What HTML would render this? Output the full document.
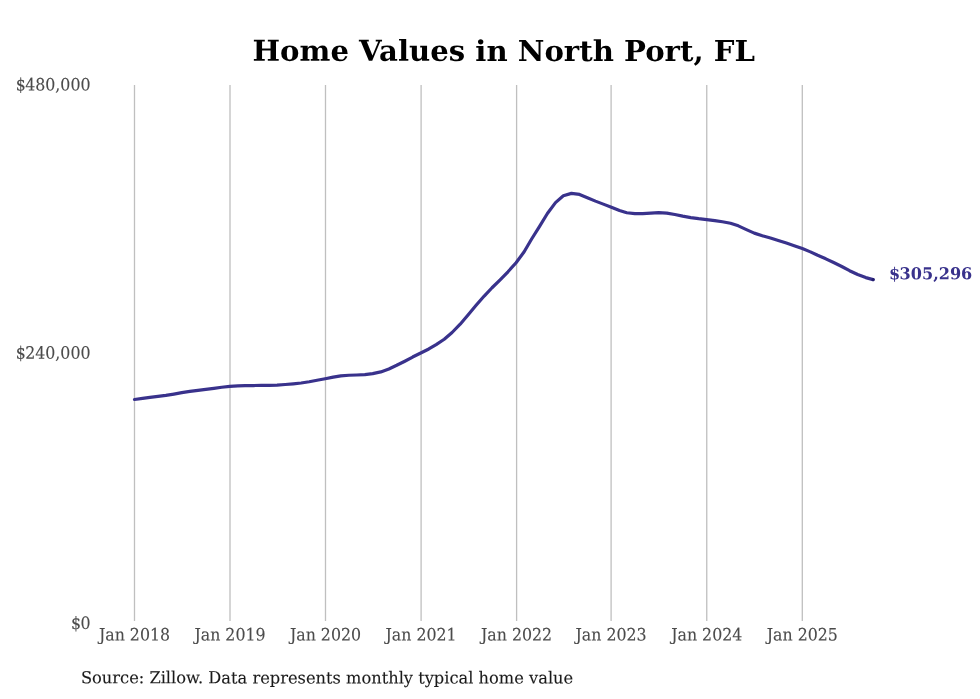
<!DOCTYPE html>
<html lang="en"><head><meta charset="utf-8"><title>Home Values in North Port, FL</title>
<style>
html,body{margin:0;padding:0;background:#fff;}
body{width:980px;height:699px;overflow:hidden;}
svg{display:block;}
text{font-family:"DejaVu Serif","Liberation Serif",serif;}
</style></head><body>
<svg width="980" height="699" viewBox="0 0 980 699">
<rect width="980" height="699" fill="#ffffff"/>
<g stroke="#bfbfbf" stroke-width="1.3" fill="none">
<line x1="134.5" y1="84.9" x2="134.5" y2="621.0"/>
<line x1="230.0" y1="84.9" x2="230.0" y2="621.0"/>
<line x1="325.5" y1="84.9" x2="325.5" y2="621.0"/>
<line x1="421.1" y1="84.9" x2="421.1" y2="621.0"/>
<line x1="516.6" y1="84.9" x2="516.6" y2="621.0"/>
<line x1="611.1" y1="84.9" x2="611.1" y2="621.0"/>
<line x1="706.75" y1="84.9" x2="706.75" y2="621.0"/>
<line x1="802.3" y1="84.9" x2="802.3" y2="621.0"/>
</g>
<path d="M134.50,399.50 L142.60,398.40 L149.91,397.31 L158.00,396.34 L165.84,395.32 L173.94,394.05 L181.77,392.67 L189.87,391.44 L197.96,390.38 L205.80,389.41 L213.89,388.39 L221.73,387.25 L229.83,386.32 L237.92,385.92 L245.23,385.71 L253.33,385.53 L261.17,385.46 L269.26,385.34 L277.10,385.06 L285.19,384.52 L293.29,383.82 L301.12,382.98 L309.22,381.76 L317.05,380.30 L325.15,378.76 L333.25,377.09 L340.82,375.81 L348.92,375.23 L356.75,374.99 L364.85,374.57 L372.68,373.65 L380.78,371.90 L388.88,369.03 L396.71,365.30 L404.81,361.20 L412.64,357.04 L420.74,352.98 L428.83,348.98 L436.15,344.58 L444.24,339.23 L452.08,332.50 L460.17,324.22 L468.01,314.94 L476.10,305.29 L484.20,296.04 L492.04,287.74 L500.13,279.82 L507.97,271.80 L516.06,262.78 L524.16,251.76 L531.47,239.27 L539.57,226.31 L547.40,213.51 L555.50,202.62 L563.33,195.83 L571.43,193.38 L579.53,194.46 L587.36,197.68 L595.46,201.12 L603.29,204.13 L611.39,207.34 L619.48,210.55 L626.80,212.73 L634.89,213.67 L642.73,213.67 L650.82,213.12 L658.66,212.69 L666.76,213.12 L674.85,214.53 L682.69,216.19 L690.78,217.59 L698.62,218.69 L706.71,219.61 L714.81,220.60 L722.38,221.77 L730.48,223.26 L738.31,225.85 L746.41,229.60 L754.25,233.11 L762.34,235.76 L770.44,238.06 L778.27,240.49 L786.37,243.08 L794.20,245.68 L802.30,248.60 L810.40,251.88 L817.71,255.29 L825.80,258.83 L833.64,262.55 L841.74,266.53 L849.57,270.68 L857.67,274.51 L865.76,277.60 L873.10,279.60" fill="none" stroke="#39328c" stroke-width="3.2" stroke-linejoin="round" stroke-linecap="round"/>
<circle cx="873.10" cy="279.60" r="1.6" fill="#241e6e"/>
<text transform="translate(503.75 60.90) scale(0.999 0.985) rotate(0.03)" text-anchor="middle" font-size="29.2" font-weight="bold" fill="#000000">Home Values in North Port, FL</text>
<g font-size="16.0" fill="#4b4b4b" stroke="#4b4b4b" stroke-width="0.12">
<text transform="translate(90.50 90.55) scale(0.988 1.065) rotate(0.03)" text-anchor="end" dx="0 -0.7">$480,000</text>
<text transform="translate(90.50 358.80) scale(0.988 1.065) rotate(0.03)" text-anchor="end" dx="0 -0.7">$240,000</text>
<text transform="translate(90.50 628.90) scale(0.988 1.065) rotate(0.03)" text-anchor="end" dx="0 -0.7">$0</text>
<text transform="translate(134.50 640.50) scale(0.988 1.065) rotate(0.03)" text-anchor="middle">Jan 2018</text>
<text transform="translate(230.00 640.50) scale(0.988 1.065) rotate(0.03)" text-anchor="middle">Jan 2019</text>
<text transform="translate(325.50 640.50) scale(0.988 1.065) rotate(0.03)" text-anchor="middle">Jan 2020</text>
<text transform="translate(421.10 640.50) scale(0.988 1.065) rotate(0.03)" text-anchor="middle">Jan 2021</text>
<text transform="translate(516.60 640.50) scale(0.988 1.065) rotate(0.03)" text-anchor="middle">Jan 2022</text>
<text transform="translate(611.10 640.50) scale(0.988 1.065) rotate(0.03)" text-anchor="middle">Jan 2023</text>
<text transform="translate(706.75 640.50) scale(0.988 1.065) rotate(0.03)" text-anchor="middle">Jan 2024</text>
<text transform="translate(802.30 640.50) scale(0.988 1.065) rotate(0.03)" text-anchor="middle">Jan 2025</text>
</g>
<text transform="translate(889.00 279.20) scale(1.012 1.03) rotate(0.03)" dx="0 -0.6" font-size="15.9" font-weight="bold" fill="#39328c">$305,296</text>
<text transform="translate(80.90 683.30) scale(1.0 1.02) rotate(0.03)" font-size="16.25" fill="#1a1a1a" stroke="#1a1a1a" stroke-width="0.12">Source: Zillow. Data represents monthly typical home value</text>
</svg>
</body></html>
